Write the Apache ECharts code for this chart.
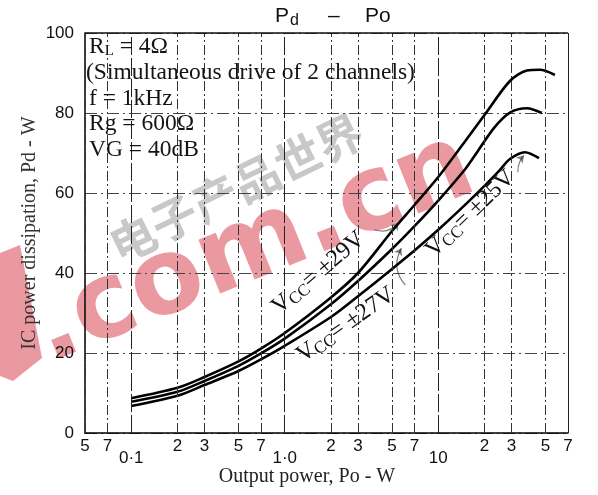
<!DOCTYPE html>
<html><head><meta charset="utf-8">
<script src="https://cdn.jsdelivr.net/npm/echarts@6/dist/echarts.min.js"></script>
<style>html,body{margin:0;padding:0;background:#fff}#c{width:598px;height:495px}</style>
</head><body><div id="c"></div>
<script>
// ---- data ----
const po29 = [0.1, 0.2, 0.3, 0.5, 0.7, 1, 2, 3, 5, 7, 10, 15, 20, 29.3, 37.8, 45.9, 57.5];
const pd29 = [8.7, 11.3, 14.0, 17.9, 21.1, 25, 33.9, 40, 50.5, 57, 64, 73, 79.5, 88, 90.6, 90.8, 89.5];
const po27 = [0.1, 0.2, 0.3, 0.5, 0.7, 1, 2, 3, 5, 7, 10, 15, 17.9, 23.1, 29.3, 37.8, 47.3];
const pd27 = [7.8, 10.3, 13.0, 16.8, 19.9, 23.6, 32.2, 38, 46, 51.7, 58.1, 66, 70.2, 76.3, 80.1, 81.2, 80];
const po25 = [0.1, 0.2, 0.3, 0.5, 0.7, 1, 2, 3, 5, 7, 10, 15, 20, 25, 29.3, 36.7, 45.3];
const pd25 = [6.75, 9.3, 12.0, 15.5, 18.4, 21.8, 29.0, 34.2, 41, 45.6, 50.8, 57.1, 61.8, 65.6, 68.5, 70.2, 68.7];

const minorTicks = [0.05, 0.07, 0.2, 0.3, 0.5, 0.7, 2, 3, 5, 7, 20, 30, 50, 70];
const minorTickLabels = ['5', '7', '2', '3', '5', '7', '2', '3', '5', '7', '2', '3', '5', '7'];
const decadeTicks = [0.1, 1, 10];
const decadeTickLabels = ['0·1', '1·0', '10'];

const curveLabels = [
  { text: 'V{s|CC}= ±29V', at: [1.66, 40.0], rot: 40.5 },
  { text: 'V{s|CC}= ±27V', at: [2.5, 27.0], rot: 35 },
  { text: 'V{s|CC}= ±25V', at: [16.2, 54.8], rot: 44 }
];
const arrows = [
  { from: [3.85, 50.8], to: [5.5, 52.6], curve: -0.35 },
  { from: [6.1, 37.0], to: [5.75, 46.2], curve: 0.35 },
  { from: [33, 65.2], to: [36.1, 69.4], curve: 0.2 }
];

const infoLines = ['R{s|L} = 4Ω', '(Simultaneous drive of 2 channels)', 'f = 1kHz', 'Rg = 600Ω', 'VG = 40dB'];

// ---- chart ----
const serif = '"Liberation Serif", "Times New Roman", serif';
const sans = '"Liberation Sans", Arial, sans-serif';
const chart = echarts.init(document.getElementById('c'), null, { renderer: 'canvas' });

const pairs = (xs, ys) => xs.map((x, i) => [x, ys[i]]);
const curveStyle = { color: '#000', width: 2.6 };
const richV = {
  s: { fontSize: 17, fontFamily: serif, color: '#111', verticalAlign: 'bottom', lineHeight: 16 }
};
function labelPoint(l) {
  return {
    coord: l.at, symbol: 'circle', symbolSize: 1, itemStyle: { color: 'rgba(0,0,0,0)' },
    label: {
      show: true, position: 'inside', formatter: l.text, rotate: l.rot,
      fontFamily: serif, fontSize: 24, color: '#111', lineHeight: 26,
      align: 'center', verticalAlign: 'middle', rich: richV
    }
  };
}

const vLineData = minorTicks.map((v, i) => ({
  xAxis: v,
  lineStyle: { type: v === 70 ? 'solid' : [10, 3, 2, 3], color: v === 70 ? '#222' : '#333', width: 1 },
  label: { formatter: minorTickLabels[i], distance: 5 }
})).concat(decadeTicks.map((v, i) => ({
  xAxis: v,
  lineStyle: { type: [18, 3], color: '#222', width: 1 },
  label: { formatter: decadeTickLabels[i], distance: 17 }
}))).concat([{ yAxis: 100, lineStyle: { type: 'solid', color: '#111', width: 1.5 }, label: { show: false } }]);

const graphics = [];
// watermark
const wmRed = '#ea99a1';
graphics.push({
  type: 'polygon', z: -10, silent: true,
  shape: { points: [[0, 253], [20, 245], [42, 358], [13, 381], [0, 376]] },
  style: { fill: wmRed }
});
graphics.push({
  type: 'text', z: -10, silent: true, x: 254, y: 250, rotation: 22 * Math.PI / 180,
  style: { text: '.com.cn', font: 'bold 106px "DejaVu Sans", sans-serif', fill: wmRed, align: 'center', verticalAlign: 'middle' }
});
graphics.push({
  type: 'text', z: -10, silent: true, x: 236, y: 188, rotation: 26 * Math.PI / 180,
  style: { text: '电子产品世界', font: 'bold 46px "Noto Sans CJK SC", sans-serif', fill: '#c8c8c8', align: 'center', verticalAlign: 'middle' }
});
// info block
const infoY = [47, 73, 99, 124, 150];
infoLines.forEach((t, i) => {
  graphics.push({
    type: 'text', z: 10, x: i === 1 ? 86 : 89, y: infoY[i],
    style: {
      text: t, font: '23.5px ' + serif, fill: '#141414', align: 'left', verticalAlign: 'middle',
      rich: { s: { fontSize: 15, fontFamily: serif, fill: '#141414', verticalAlign: 'bottom', lineHeight: 14 } }
    }
  });
});
// title Pd - Po
graphics.push({ type: 'text', x: 275, y: 16, style: { text: 'P', font: '21px ' + sans, fill: '#111', verticalAlign: 'middle' } });
graphics.push({ type: 'text', x: 290, y: 21, style: { text: 'd', font: '16px ' + sans, fill: '#111', verticalAlign: 'middle' } });
graphics.push({ type: 'text', x: 328, y: 16, style: { text: '–', font: '21px ' + sans, fill: '#111', verticalAlign: 'middle' } });
graphics.push({ type: 'text', x: 365, y: 16, style: { text: 'Po', font: '21px ' + sans, fill: '#111', verticalAlign: 'middle' } });
// axis names
graphics.push({
  type: 'text', x: 30, y: 233, rotation: Math.PI / 2,
  style: { text: 'IC power dissipation, Pd - W', font: '20px ' + serif, fill: '#333', align: 'center', verticalAlign: 'middle' }
});
graphics.push({
  type: 'text', x: 307, y: 477,
  style: { text: 'Output power, Po - W', font: '20px ' + serif, fill: '#222', align: 'center', verticalAlign: 'middle' }
});

chart.setOption({
  animation: false,
  backgroundColor: '#fff',
  grid: { left: 85, right: 30, top: 33, bottom: 62 },
  xAxis: {
    type: 'log', logBase: 10, min: 0.05, max: 70,
    axisLine: { show: true, lineStyle: { color: '#000', width: 1.5 } },
    axisTick: { show: false }, axisLabel: { show: false },
    splitLine: { show: false }, minorTick: { show: false }
  },
  yAxis: {
    type: 'value', min: 0, max: 100, interval: 20,
    axisLine: { show: true, lineStyle: { color: '#000', width: 1.5 } },
    axisTick: { show: false },
    axisLabel: { fontFamily: sans, fontSize: 17, color: '#111', margin: 11 },
    splitLine: { show: true, lineStyle: { type: [12, 4, 2, 4], color: '#444', width: 1 } }
  },
  graphic: graphics,
  series: [
    {
      type: 'line', name: 'grid', data: [], silent: true,
      markLine: {
        silent: true, symbol: ['none', 'none'], animation: false,
        label: { show: true, position: 'start', fontFamily: sans, fontSize: 17, color: '#111' },
        data: vLineData
      }
    },
    {
      type: 'line', name: 'Vcc=±29V', data: pairs(po29, pd29), smooth: 0.3, symbol: 'none',
      lineStyle: curveStyle, markPoint: { silent: true, data: [labelPoint(curveLabels[0])] }
    },
    {
      type: 'line', name: 'Vcc=±27V', data: pairs(po27, pd27), smooth: 0.3, symbol: 'none',
      lineStyle: curveStyle, markPoint: { silent: true, data: [labelPoint(curveLabels[1])] }
    },
    {
      type: 'line', name: 'Vcc=±25V', data: pairs(po25, pd25), smooth: 0.3, symbol: 'none',
      lineStyle: curveStyle, markPoint: { silent: true, data: [labelPoint(curveLabels[2])] }
    },
    {
      type: 'lines', coordinateSystem: 'cartesian2d', polyline: false, silent: true,
      symbol: ['none', 'arrow'], symbolSize: 7,
      lineStyle: { color: '#000', width: 1.2 },
      data: arrows.map(a => ({ coords: [a.from, a.to], lineStyle: { curveness: a.curve } }))
    }
  ]
});
</script>
</body></html>
